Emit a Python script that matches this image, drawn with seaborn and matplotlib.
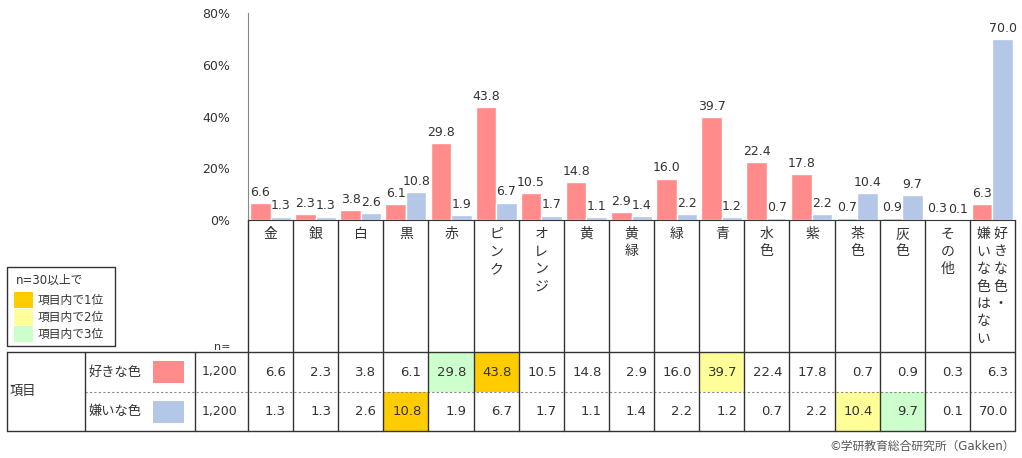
import numpy as np
import pandas as pd
import matplotlib
matplotlib.use('Agg')
import matplotlib.pyplot as plt
from matplotlib.patches import Rectangle
import seaborn as sns

# データ
categories = ['金', '銀', '白', '黒', '赤', 'ピンク', 'オレンジ', '黄', '黄緑', '緑',
              '青', '水色', '紫', '茶色', '灰色', 'その他', '好きな色・嫌いな色はない']
like = [6.6, 2.3, 3.8, 6.1, 29.8, 43.8, 10.5, 14.8, 2.9, 16.0, 39.7, 22.4, 17.8, 0.7, 0.9, 0.3, 6.3]
dislike = [1.3, 1.3, 2.6, 10.8, 1.9, 6.7, 1.7, 1.1, 1.4, 2.2, 1.2, 0.7, 2.2, 10.4, 9.7, 0.1, 70.0]
series = ['好きな色', '嫌いな色']
n_values = ['1,200', '1,200']
yticks = [0, 20, 40, 60, 80]
rank_names = ['項目内で1位', '項目内で2位', '項目内で3位']

pink = '#FF8B8B'
blue = '#B4C7E7'
rank_colors = ['#FFCC00', '#FFFF99', '#CCFFCC']
txt = '#333333'
line_c = '#333333'

sns.set_style('white')
# 数字は幅広のDejaVu、和文はNotoへフォールバック
plt.rcParams['font.family'] = ['DejaVu Sans', 'Noto Sans CJK JP']

df = pd.DataFrame({
    'category': categories * 2,
    'value': like + dislike,
    'series': [series[0]] * len(categories) + [series[1]] * len(categories),
})

W, H = 1022, 458
fig = plt.figure(figsize=(W / 100, H / 100), dpi=100)
x0, x1, y_base, y_top = 248, 1015, 220, 13
ax = fig.add_axes([x0 / W, (H - y_base) / H, (x1 - x0) / W, (y_base - y_top) / H])

sns.barplot(data=df, x='category', y='value', hue='series', order=categories,
            palette=[pink, blue], width=0.91, saturation=1, legend=False, ax=ax)
for cont in ax.containers:
    ax.bar_label(cont, fmt='%.1f', padding=3, fontsize=9, color=txt)

ax.set_xlim(-0.5, len(categories) - 0.5)
ax.set_ylim(0, 80)
ax.set_yticks(yticks)
ax.set_yticklabels([f'{t}%' for t in yticks], fontsize=9, color=txt)
ax.set_xticks([])
ax.set_xlabel('')
ax.set_ylabel('')
ax.tick_params(axis='y', length=4, color='#888888', pad=9)
for s in ['top', 'right']:
    ax.spines[s].set_visible(False)
ax.spines['left'].set_color('#888888')
ax.spines['bottom'].set_color(line_c)
ax.patch.set_alpha(0)

# 表(ピクセル座標)
ov = fig.add_axes([0, 0, 1, 1])
ov.set_xlim(0, W)
ov.set_ylim(H, 0)
ov.axis('off')
ov.patch.set_alpha(0)

cw = (x1 - x0) / len(categories)
r_top, r_mid, r_bot = 352, 392, 431
row_y = [(r_top + r_mid) / 2, (r_mid + r_bot) / 2]

# 順位のハイライト(「ない」を除く)
for ri, vals in enumerate([like, dislike]):
    cand = np.array(vals[:-1])
    order = np.argsort(-cand)[:3]
    yy, hh = (r_top, r_mid - r_top) if ri == 0 else (r_mid, r_bot - r_mid)
    for k, ci in enumerate(order):
        ov.add_patch(Rectangle((x0 + ci * cw, yy), cw, hh,
                               facecolor=rank_colors[k], edgecolor='none'))

# 罫線
ov.plot([7, x1], [r_top, r_top], color=line_c, lw=1)
ov.plot([7, x1], [r_bot, r_bot], color=line_c, lw=1)
ov.plot([85, x1], [r_mid, r_mid], color='#888888', lw=0.8, ls=(0, (2, 2)))
for xv in [7, 85, 195]:
    ov.plot([xv, xv], [r_top, r_bot], color=line_c, lw=1)
for i in range(len(categories) + 1):
    xv = x0 + i * cw
    ov.plot([xv, xv], [y_base, r_bot], color=line_c, lw=1)

# 縦書きの項目名
step = 17.5
for i, cat in enumerate(categories):
    cx = x0 + (i + 0.5) * cw
    if '・' in cat:
        cols = [cat[:cat.index('・') + 1], cat[cat.index('・') + 1:]]
        xs = [cx + 8, cx - 9]
    else:
        cols = [cat]
        xs = [cx]
    for col, xx in zip(cols, xs):
        for j, ch in enumerate(col):
            ov.text(xx, 234 + j * step, ch, ha='center', va='center', fontsize=10,
                    color=txt, family='Noto Sans CJK JP')

# 行ラベルと数値
ov.text(10, (r_top + r_bot) / 2, '項目', ha='left', va='center', fontsize=9.5, color=txt)
for ri, (name, col, vals) in enumerate(zip(series, [pink, blue], [like, dislike])):
    yy = row_y[ri]
    ov.text(88, yy, name, ha='left', va='center', fontsize=9.5, color=txt)
    ov.add_patch(Rectangle((153, yy - 11), 31, 22, facecolor=col, edgecolor='none'))
    ov.text(237, yy, n_values[ri], ha='right', va='center', fontsize=9, color=txt)
    for i, v in enumerate(vals):
        ov.text(x0 + (i + 1) * cw - 7, yy, f'{v:.1f}', ha='right', va='center', fontsize=9.5, color=txt)
ov.text(214, 347, 'n=', ha='left', va='center', fontsize=8, color=txt)

# 凡例
ov.add_patch(Rectangle((7, 267), 108, 79, facecolor='white', edgecolor=line_c, lw=1))
ov.text(16, 280, 'n=30以上で', ha='left', va='center', fontsize=8.5, color=txt)
for k, (nm, c) in enumerate(zip(rank_names, rank_colors)):
    yy = 292 + k * 17
    ov.add_patch(Rectangle((14, yy), 19, 16, facecolor=c, edgecolor='none'))
    ov.text(38, yy + 8, nm, ha='left', va='center', fontsize=8.5, color=txt)

ov.text(x1, 446, '©学研教育総合研究所（Gakken）', ha='right', va='center', fontsize=8.5, color='#555555')

fig.savefig('out.png', dpi=100)
